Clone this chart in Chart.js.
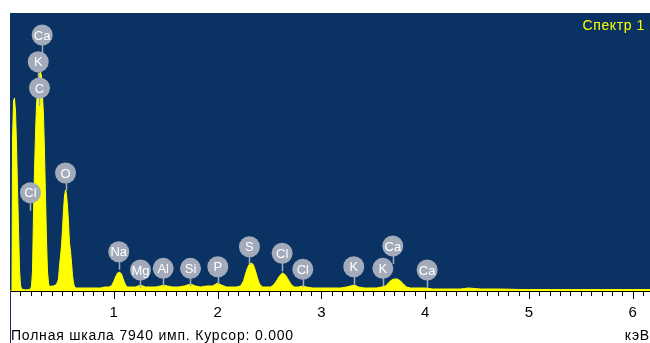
<!DOCTYPE html>
<html><head><meta charset="utf-8">
<script src="https://cdn.jsdelivr.net/npm/chart.js@4"></script>
<style>html,body{margin:0;padding:0;background:#fff;}#wrap{width:650px;height:343px;position:relative;}</style>
</head><body><div id="wrap"><canvas id="c" width="650" height="343"></canvas></div>
<script>
// Spectrum (energy keV, counts)
const energies = [0.000,0.019,0.024,0.034,0.043,0.053,0.063,0.072,0.082,0.092,0.101,0.111,0.150,0.180,0.198,0.207,0.217,0.226,0.236,0.246,0.255,0.265,0.275,0.284,0.294,0.303,0.313,0.323,0.332,0.342,0.352,0.361,0.371,0.381,0.400,0.419,0.438,0.448,0.458,0.467,0.477,0.487,0.496,0.506,0.515,0.525,0.535,0.544,0.554,0.564,0.573,0.583,0.593,0.602,0.612,0.622,0.641,0.679,0.771,0.872,0.910,0.949,0.978,0.997,1.017,1.036,1.055,1.074,1.094,1.113,1.133,1.161,1.209,1.257,1.306,1.354,1.402,1.450,1.479,1.517,1.566,1.623,1.681,1.739,1.787,1.835,1.893,1.951,2.001,2.038,2.086,2.134,2.182,2.221,2.250,2.269,2.288,2.307,2.327,2.346,2.365,2.384,2.404,2.433,2.471,2.510,2.539,2.567,2.596,2.625,2.654,2.683,2.712,2.741,2.780,2.818,2.857,2.915,2.992,3.088,3.184,3.242,3.280,3.319,3.358,3.415,3.473,3.531,3.580,3.618,3.646,3.675,3.704,3.733,3.762,3.791,3.820,3.858,3.935,4.003,4.070,4.196,4.340,4.417,4.533,4.725,4.918,5.303,5.689,6.166];
const counts   = [0,0,4284,5426,5512,5141,4170,2970,1799,600,171,57,29,43,57,143,571,2142,3427,4512,5284,5712,5998,6198,6255,6140,5569,4998,3998,2713,1428,571,228,114,143,143,171,200,257,343,714,1000,1285,1771,2285,2713,2885,2770,2428,1942,1371,1142,800,457,228,114,86,86,86,86,114,114,143,257,400,514,543,486,314,171,114,114,114,171,114,114,114,143,171,143,114,114,143,200,143,114,143,143,228,171,114,114,114,143,286,486,657,771,800,743,571,371,200,114,114,114,171,286,428,514,457,314,171,114,114,143,114,86,86,86,86,114,143,171,114,86,86,86,114,143,228,314,343,343,286,200,114,86,86,86,57,57,57,86,57,57,43,43,43,43];

// Element markers
const peakLabels   = ['Ca','K','C','Cl','O','Na','Mg','Al','Si','P','S','Cl','Cl','K','K','Ca','Ca'];
const peakEnergies = [0.310,0.272,0.284,0.197,0.535,1.048,1.257,1.476,1.739,2.002,2.307,2.622,2.821,3.312,3.592,3.688,4.019];
const peakLevels   = [7311,6549,5798,2807,3370,1122,600,648,648,694,1265,1077,620,694,648,1285,600];

const xTickValues = [1,2,3,4,5,6];
const fullScale = 7940;
const xMax = 6.166;
const titleText = 'Спектр 1';
const footerText = 'Полная шкала 7940 имп. Курсор: 0.000';
const unitText = 'кэВ';

const FONT = "'Liberation Sans', Arial, sans-serif";
const BG = '#0a3363';
const YEL = '#ffff00';
const BUB = '#a3abbb';

const spectrum = energies.map((e,i)=>({x:e,y:counts[i]}));
const markers = peakEnergies.map((e,i)=>({x:e,y:peakLevels[i]}));

const decor = {
  id:'decor',
  beforeDraw(chart){
    const {ctx, chartArea:a} = chart;
    ctx.save();
    ctx.fillStyle = BG;
    ctx.fillRect(a.left, a.top, a.right-a.left, a.bottom-a.top);
    ctx.restore();
  },
  beforeDatasetDraw(chart, args){
    if (args.index !== 1) return;
    const {ctx} = chart;
    const xs = chart.scales.x, ys = chart.scales.y;
    ctx.save();
    ctx.strokeStyle = BUB; ctx.lineWidth = 1.5;
    peakEnergies.forEach((e,i)=>{
      const px = Math.round(xs.getPixelForValue(e))+0.5;
      const py = ys.getPixelForValue(peakLevels[i]);
      ctx.beginPath(); ctx.moveTo(px, py); ctx.lineTo(px, py+18); ctx.stroke();
    });
    ctx.restore();
  },
  afterDatasetsDraw(chart){
    const {ctx, chartArea:a} = chart;
    const xs = chart.scales.x, ys = chart.scales.y;
    ctx.save();
    ctx.fillStyle = '#ffffff';
    ctx.font = '13px ' + FONT;
    ctx.textAlign = 'center'; ctx.textBaseline = 'middle';
    peakLabels.forEach((t,i)=>{
      ctx.fillText(t, xs.getPixelForValue(peakEnergies[i]), ys.getPixelForValue(peakLevels[i])+1);
    });
    // title
    ctx.fillStyle = YEL;
    ctx.font = '14px ' + FONT;
    ctx.letterSpacing = '0.6px';
    ctx.textAlign = 'right'; ctx.textBaseline = 'middle';
    ctx.fillText(titleText, a.right-5, 26);
    ctx.restore();
  },
  afterDraw(chart){
    const {ctx, chartArea:a} = chart;
    const xs = chart.scales.x;
    ctx.save();
    // minor / major ticks
    ctx.strokeStyle = '#000'; ctx.lineWidth = 1;
    for (let i=1;i<=61;i++){
      const e = i/10;
      if (e > xMax) break;
      const px = Math.round(xs.getPixelForValue(e))+0.5;
      const major = (i%10===0);
      ctx.beginPath(); ctx.moveTo(px, a.bottom+1); ctx.lineTo(px, a.bottom + (major?8:5)); ctx.stroke();
    }
    // cursor line at 0
    const cx = Math.round(xs.getPixelForValue(0))+0.5;
    ctx.strokeStyle = '#1a2a60';
    ctx.beginPath(); ctx.moveTo(cx, a.bottom); ctx.lineTo(cx, 343); ctx.stroke();
    // footer
    ctx.fillStyle = '#000';
    ctx.font = '14px ' + FONT;
    ctx.letterSpacing = '0.8px';
    ctx.textBaseline = 'alphabetic';
    ctx.textAlign = 'left';
    ctx.fillText(footerText, 11, 340);
    ctx.textAlign = 'right';
    ctx.fillText(unitText, 650, 340);
    ctx.restore();
  }
};

new Chart(document.getElementById('c'), {
  data:{
    datasets:[
      {type:'line', data:spectrum, borderColor:YEL, backgroundColor:YEL, borderWidth:1, pointRadius:0, tension:0, fill:'origin', order:1},
      {type:'scatter', data:markers, pointRadius:10.5, pointHoverRadius:10.5, backgroundColor:BUB, borderWidth:0, order:0, clip:false}
    ]
  },
  options:{
    responsive:false, animation:false, devicePixelRatio:1,
    layout:{autoPadding:false, padding:{top:13,left:10,right:0,bottom:0}},
    plugins:{legend:{display:false}, tooltip:{enabled:false}},
    events:[],
    scales:{
      x:{type:'linear', min:0, max:xMax,
         afterFit(s){ s.height = 52; s.paddingLeft = 0; s.paddingRight = 0; },
         afterBuildTicks(s){ s.ticks = xTickValues.map(v=>({value:v})); },
         ticks:{color:'#000', font:{family:FONT, size:15}, padding:13, autoSkip:false, maxRotation:0, includeBounds:false},
         grid:{display:true, drawOnChartArea:false, drawTicks:true, tickLength:0, color:'rgba(0,0,0,0)'},
         border:{display:true, color:'#000', width:1}
      },
      y:{display:false, min:0, max:fullScale}
    }
  },
  plugins:[decor]
});
</script></body></html>
